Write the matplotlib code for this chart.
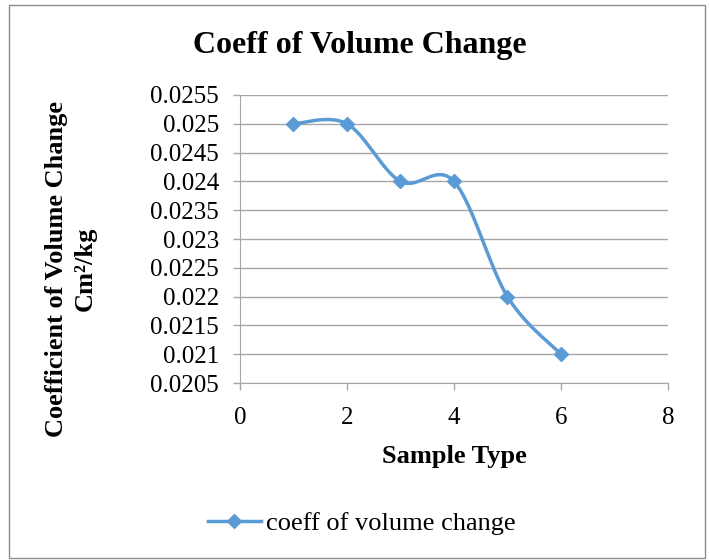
import numpy as np
import matplotlib.pyplot as plt
from matplotlib.patches import Rectangle
from matplotlib.lines import Line2D

# data
sample_type = [1, 2, 3, 4, 5, 6]
coeff_volume_change = [0.025, 0.025, 0.024, 0.024, 0.022, 0.021]
y_ticks = [0.0205, 0.021, 0.0215, 0.022, 0.0225, 0.023, 0.0235, 0.024, 0.0245, 0.025, 0.0255]
y_tick_labels = ["0.0205", "0.021", "0.0215", "0.022", "0.0225", "0.023",
                 "0.0235", "0.024", "0.0245", "0.025", "0.0255"]
x_ticks = [0, 2, 4, 6, 8]

line_color = "#5B9BD5"
grid_color = "#A6A6A6"

plt.rcParams['font.family'] = ['Liberation Serif', 'DejaVu Serif']


def smooth_curve(xs, ys, n=40):
    # Excel-like smoothed line: bezier segments with catmull-rom control points
    pts = np.column_stack([xs, ys]).astype(float)
    padded = np.vstack([pts[0], pts, pts[-1]])
    out = []
    t = np.linspace(0, 1, n)[:, None]
    for i in range(1, len(padded) - 2):
        p0, p1, p2, p3 = padded[i - 1], padded[i], padded[i + 1], padded[i + 2]
        c1 = p1 + (p2 - p0) / 6
        c2 = p2 - (p3 - p1) / 6
        seg = ((1 - t) ** 3) * p1 + 3 * ((1 - t) ** 2) * t * c1 + 3 * (1 - t) * t ** 2 * c2 + t ** 3 * p2
        out.append(seg if i == 1 else seg[1:])
    curve = np.vstack(out)
    return curve[:, 0], curve[:, 1]


fig = plt.figure(figsize=(7.09, 5.6), dpi=100)
ax = fig.add_axes([0.3385, 0.316, 0.6035, 0.5144])

sx, sy = smooth_curve(sample_type, coeff_volume_change)
ax.plot(sx, sy, color=line_color, lw=2.5, zorder=3)
ax.plot(sample_type, coeff_volume_change, ls='none', marker='D', ms=7,
        color=line_color, zorder=4)

ax.set_xlim(0, 8)
ax.set_ylim(0.0205, 0.0255)
ax.set_xticks(x_ticks)
ax.set_yticks(y_ticks)
ax.set_yticklabels(y_tick_labels)
ax.tick_params(axis='both', labelsize=18, color=grid_color, length=5, width=1)
ax.tick_params(axis='y', pad=10)
ax.tick_params(axis='x', pad=12)

ax.grid(axis='y', color=grid_color, lw=1)
ax.set_axisbelow(True)
for side in ['top', 'right']:
    ax.spines[side].set_visible(False)
for side in ['left', 'bottom']:
    ax.spines[side].set_color(grid_color)

fig.text(0.508, 0.918, "Coeff of Volume Change", ha='center', va='center',
         fontsize=23, fontweight='bold')
ax.set_xlabel("Sample Type", fontsize=19, fontweight='bold', labelpad=12)
fig.text(0.1, 0.52, "Coefficient of Volume Change\nCm²/kg", rotation=90,
         ha='center', va='center', fontsize=19, fontweight='bold', linespacing=1.3)

handle = Line2D([], [], color=line_color, lw=2.5, marker='D', ms=7)
fig.legend([handle], ["coeff of volume change"], loc='center',
           bbox_to_anchor=(0.51, 0.066), frameon=False, fontsize=19,
           handlelength=2.0, handletextpad=0.2)

# outer chart border
fig.patches.append(Rectangle((0.012, 0.003), 0.982, 0.988, transform=fig.transFigure,
                             fill=False, edgecolor='#8C8C8C', lw=1))

fig.savefig("out.png", dpi=100)
